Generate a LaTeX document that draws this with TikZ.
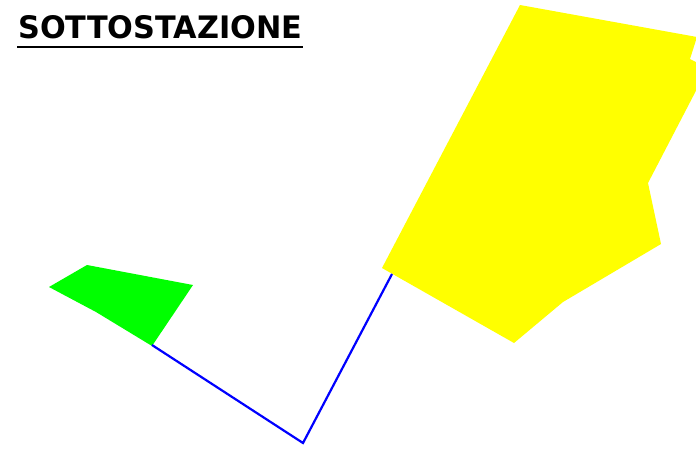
\documentclass[tikz,border=0pt]{standalone}
\usepackage{fontspec}
\setmainfont{DejaVu Sans}
\usepackage{graphicx}
\definecolor{pyellow}{RGB}{255,255,0}
\definecolor{pgreen}{RGB}{0,255,0}
\definecolor{pblue}{RGB}{0,0,255}
\begin{document}
\begin{tikzpicture}[x=1pt,y=-1pt,
  area/.style={draw=none},
  cable/.style={draw=pblue,line width=2.2pt,line join=miter}]
\useasboundingbox (0,0) rectangle (696,451);
\clip (0,0) rectangle (696,451);
% yellow area
\fill[pyellow,area] (520,5) -- (697,37) -- (690,59) -- (700,64) -- (700,83) -- (648,183) -- (661,244) -- (563,302) -- (514,343) -- (382,268) -- cycle;
% green area
\fill[pgreen,area] (49,287) -- (87,265) -- (193,285) -- (152,346) -- (96,312) -- cycle;
% blue cable
\coordinate (g) at (152,345);
\coordinate (v) at (303,443);
\coordinate (y) at (392,274);
\draw[cable] (g) -- (v) -- (y);
% title
\node[anchor=base west,inner sep=0pt] (title) at (18,38) {\resizebox{284pt}{23pt}{\bfseries SOTTOSTAZIONE}};
\draw[line width=2pt] (17,47) -- (303,47);
\end{tikzpicture}
\end{document}
